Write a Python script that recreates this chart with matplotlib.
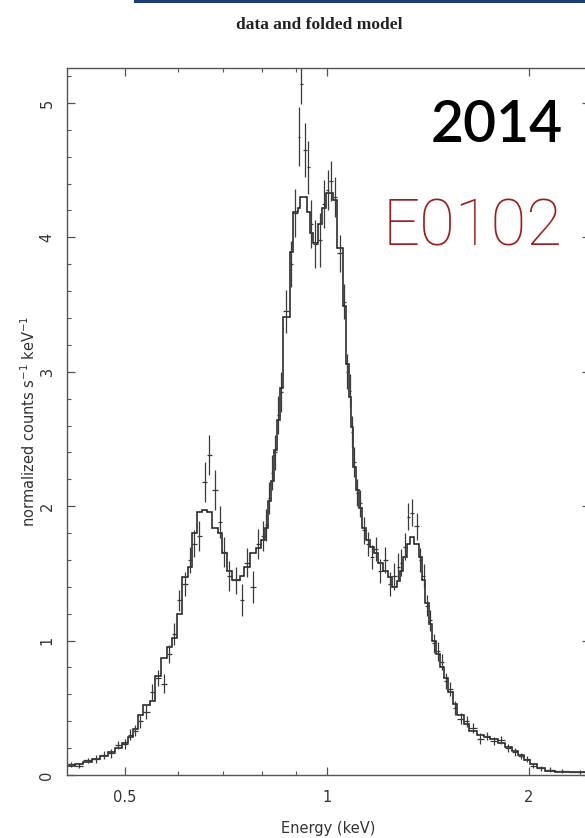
import numpy as np
import matplotlib.pyplot as plt
from matplotlib.ticker import FixedLocator, FixedFormatter, MultipleLocator, NullFormatter
from matplotlib.lines import Line2D

# channel bin edges (keV)
bin_edges = [
    0.410, 0.421, 0.433, 0.447, 0.459, 0.472, 0.483, 0.495, 0.505, 0.514,
    0.523, 0.532, 0.545, 0.554, 0.566, 0.577, 0.587, 0.598, 0.608, 0.621,
    0.629, 0.640, 0.652, 0.663, 0.674, 0.688, 0.697, 0.710, 0.722, 0.742,
    0.752, 0.768, 0.784, 0.797, 0.808, 0.817, 0.825, 0.834, 0.842, 0.851,
    0.860, 0.881, 0.890, 0.905, 0.911, 0.922, 0.934, 0.943, 0.953, 0.970,
    0.983, 0.997, 1.009, 1.021, 1.035, 1.056, 1.067, 1.078, 1.086, 1.093,
    1.105, 1.116, 1.128, 1.143, 1.159, 1.175, 1.191, 1.212, 1.233, 1.250,
    1.271, 1.285, 1.298, 1.316, 1.330, 1.352, 1.371, 1.386, 1.404, 1.419,
    1.434, 1.454, 1.474, 1.494, 1.515, 1.541, 1.567, 1.600, 1.633, 1.673,
    1.714, 1.755, 1.798, 1.842, 1.887, 1.926, 1.966, 2.007, 2.056, 2.113,
    2.187, 2.302, 2.470,
]

# folded model (normalized counts s^-1 keV^-1)
model = [
    0.07, 0.08, 0.10, 0.12, 0.14, 0.17, 0.20, 0.24, 0.28, 0.34,
    0.45, 0.52, 0.55, 0.74, 0.87, 0.95, 1.02, 1.20, 1.47, 1.55,
    1.80, 1.96, 1.97, 1.96, 1.84, 1.80, 1.65, 1.52, 1.45, 1.48,
    1.55, 1.65, 1.69, 1.75, 1.84, 2.04, 2.19, 2.42, 2.64, 2.88,
    3.41, 3.89, 4.19, 4.22, 4.30, 4.30, 4.19, 4.03, 3.96, 4.10,
    4.22, 4.33, 4.33, 4.28, 3.92, 3.49, 3.06, 2.81, 2.59, 2.29,
    2.12, 1.99, 1.84, 1.75, 1.70, 1.65, 1.58, 1.52, 1.47, 1.40,
    1.44, 1.52, 1.62, 1.72, 1.77, 1.72, 1.62, 1.45, 1.28, 1.12,
    1.00, 0.90, 0.80, 0.72, 0.62, 0.53, 0.45, 0.38, 0.33, 0.30,
    0.28, 0.27, 0.24, 0.21, 0.18, 0.15, 0.11, 0.08, 0.05, 0.03,
    0.025, 0.025,
]

# observed data and 1-sigma errors
data = [
    0.08, 0.07, 0.11, 0.12, 0.15, 0.16, 0.22, 0.23, 0.30, 0.33,
    0.40, 0.47, 0.62, 0.72, 0.68, 0.90, 1.05, 1.30, 1.42, 1.60,
    1.72, 1.78, 2.18, 2.38, 2.12, 1.88, 1.66, 1.48, 1.45, 1.30,
    1.58, 1.40, 1.72, 1.78, 1.86, 2.06, 2.25, 2.40, 2.68, 2.85,
    3.45, 3.80, 4.18, 4.75, 5.14, 4.65, 4.52, 4.10, 3.95, 3.98,
    4.25, 4.35, 4.42, 4.30, 3.88, 3.52, 3.00, 2.86, 2.55, 2.33,
    2.10, 2.02, 1.82, 1.72, 1.62, 1.68, 1.52, 1.60, 1.42, 1.48,
    1.55, 1.58, 1.70, 1.92, 1.95, 1.85, 1.60, 1.48, 1.26, 1.15,
    0.98, 0.92, 0.84, 0.70, 0.64, 0.50, 0.42, 0.40, 0.35, 0.27,
    0.29, 0.25, 0.26, 0.20, 0.17, 0.14, 0.12, 0.07, 0.05, 0.04,
    0.03, 0.02,
]
data_err = [
    0.02, 0.02, 0.02, 0.03, 0.03, 0.03, 0.03, 0.04, 0.04, 0.04,
    0.05, 0.05, 0.06, 0.06, 0.07, 0.07, 0.08, 0.08, 0.09, 0.10,
    0.10, 0.11, 0.15, 0.15, 0.15, 0.12, 0.11, 0.11, 0.10, 0.12,
    0.11, 0.12, 0.11, 0.11, 0.12, 0.12, 0.13, 0.13, 0.14, 0.15,
    0.16, 0.17, 0.18, 0.22, 0.15, 0.20, 0.20, 0.18, 0.18, 0.20,
    0.18, 0.15, 0.15, 0.15, 0.14, 0.13, 0.13, 0.12, 0.12, 0.11,
    0.10, 0.10, 0.10, 0.09, 0.09, 0.09, 0.09, 0.10, 0.09, 0.10,
    0.10, 0.10, 0.10, 0.10, 0.10, 0.10, 0.09, 0.09, 0.08, 0.08,
    0.07, 0.07, 0.06, 0.06, 0.05, 0.05, 0.04, 0.04, 0.04, 0.04,
    0.03, 0.03, 0.03, 0.03, 0.03, 0.02, 0.02, 0.02, 0.02, 0.02,
    0.015, 0.015,
]

x_ticks = [0.5, 1, 2]
x_tick_labels = ["0.5", "1", "2"]
x_minor = [0.6, 0.7, 0.8, 0.9]

edges = np.array(bin_edges)
centers = 0.5 * (edges[:-1] + edges[1:])
xerr = [centers - edges[:-1], edges[1:] - centers]

W, H = 585, 838
fig = plt.figure(figsize=(W / 100, H / 100), dpi=100)
fig.patch.set_facecolor("white")

# axes frame: left spine at x=67px, bottom at y=775px, top at y=68px, right just off-canvas
ax = fig.add_axes([67 / W, (H - 775) / H, (590 - 67) / W, (775 - 68) / H])
ax.set_xscale("log")
ax.set_xlim(0.41, 2.47)
ax.set_ylim(0, 5.26)

ax.stairs(model, edges, color="#1a1a1a", linewidth=1.1)
ax.errorbar(centers, data, yerr=data_err, xerr=xerr, fmt="none",
            ecolor="#3a3a3a", elinewidth=0.9, capsize=0)

for s in ax.spines.values():
    s.set_color("#555555")
    s.set_linewidth(1.0)

ax.xaxis.set_major_locator(FixedLocator(x_ticks))
ax.xaxis.set_major_formatter(FixedFormatter(x_tick_labels))
ax.xaxis.set_minor_locator(FixedLocator(x_minor))
ax.xaxis.set_minor_formatter(NullFormatter())
ax.yaxis.set_major_locator(MultipleLocator(1))
ax.yaxis.set_minor_locator(MultipleLocator(0.2))

ax.tick_params(which="both", direction="in", top=True, right=True, color="#555555")
ax.tick_params(which="major", length=5.5, width=0.9, labelsize=10.5, labelcolor="#333333")
ax.tick_params(which="minor", length=3.2, width=0.8)
ax.tick_params(axis="x", which="major", pad=11)
ax.tick_params(axis="y", which="major", pad=9, labelrotation=90)
for lab in ax.get_yticklabels():
    lab.set_va("center")

ax.set_xlabel("Energy (keV)", fontsize=10.5, color="#333333", labelpad=11)
ax.set_ylabel(r"normalized counts s$^{-1}$ keV$^{-1}$", fontsize=10.5, color="#333333", labelpad=1)

fig.text(319 / W, 1 - 25 / H, "data and folded model", ha="center", va="center",
         family="Liberation Serif", fontweight="bold", fontsize=12.5, color="#222222")

# slide header rule
fig.add_artist(Line2D([135 / W, 1.0], [1 - 1 / H, 1 - 1 / H], color="#1c3c72", linewidth=2.2))

# overlay labels
fig.text(563 / W, 1 - 142 / H, "2014", ha="right", va="baseline",
         family="Lato", fontweight="semibold", fontsize=41, color="black")
fig.text(383 / W, 1 - 245 / H, "E0102", ha="left", va="baseline",
         family="Roboto", fontweight="light", fontsize=47, color="#a01d1d")

fig.savefig("out.png", dpi=100, facecolor="white")
